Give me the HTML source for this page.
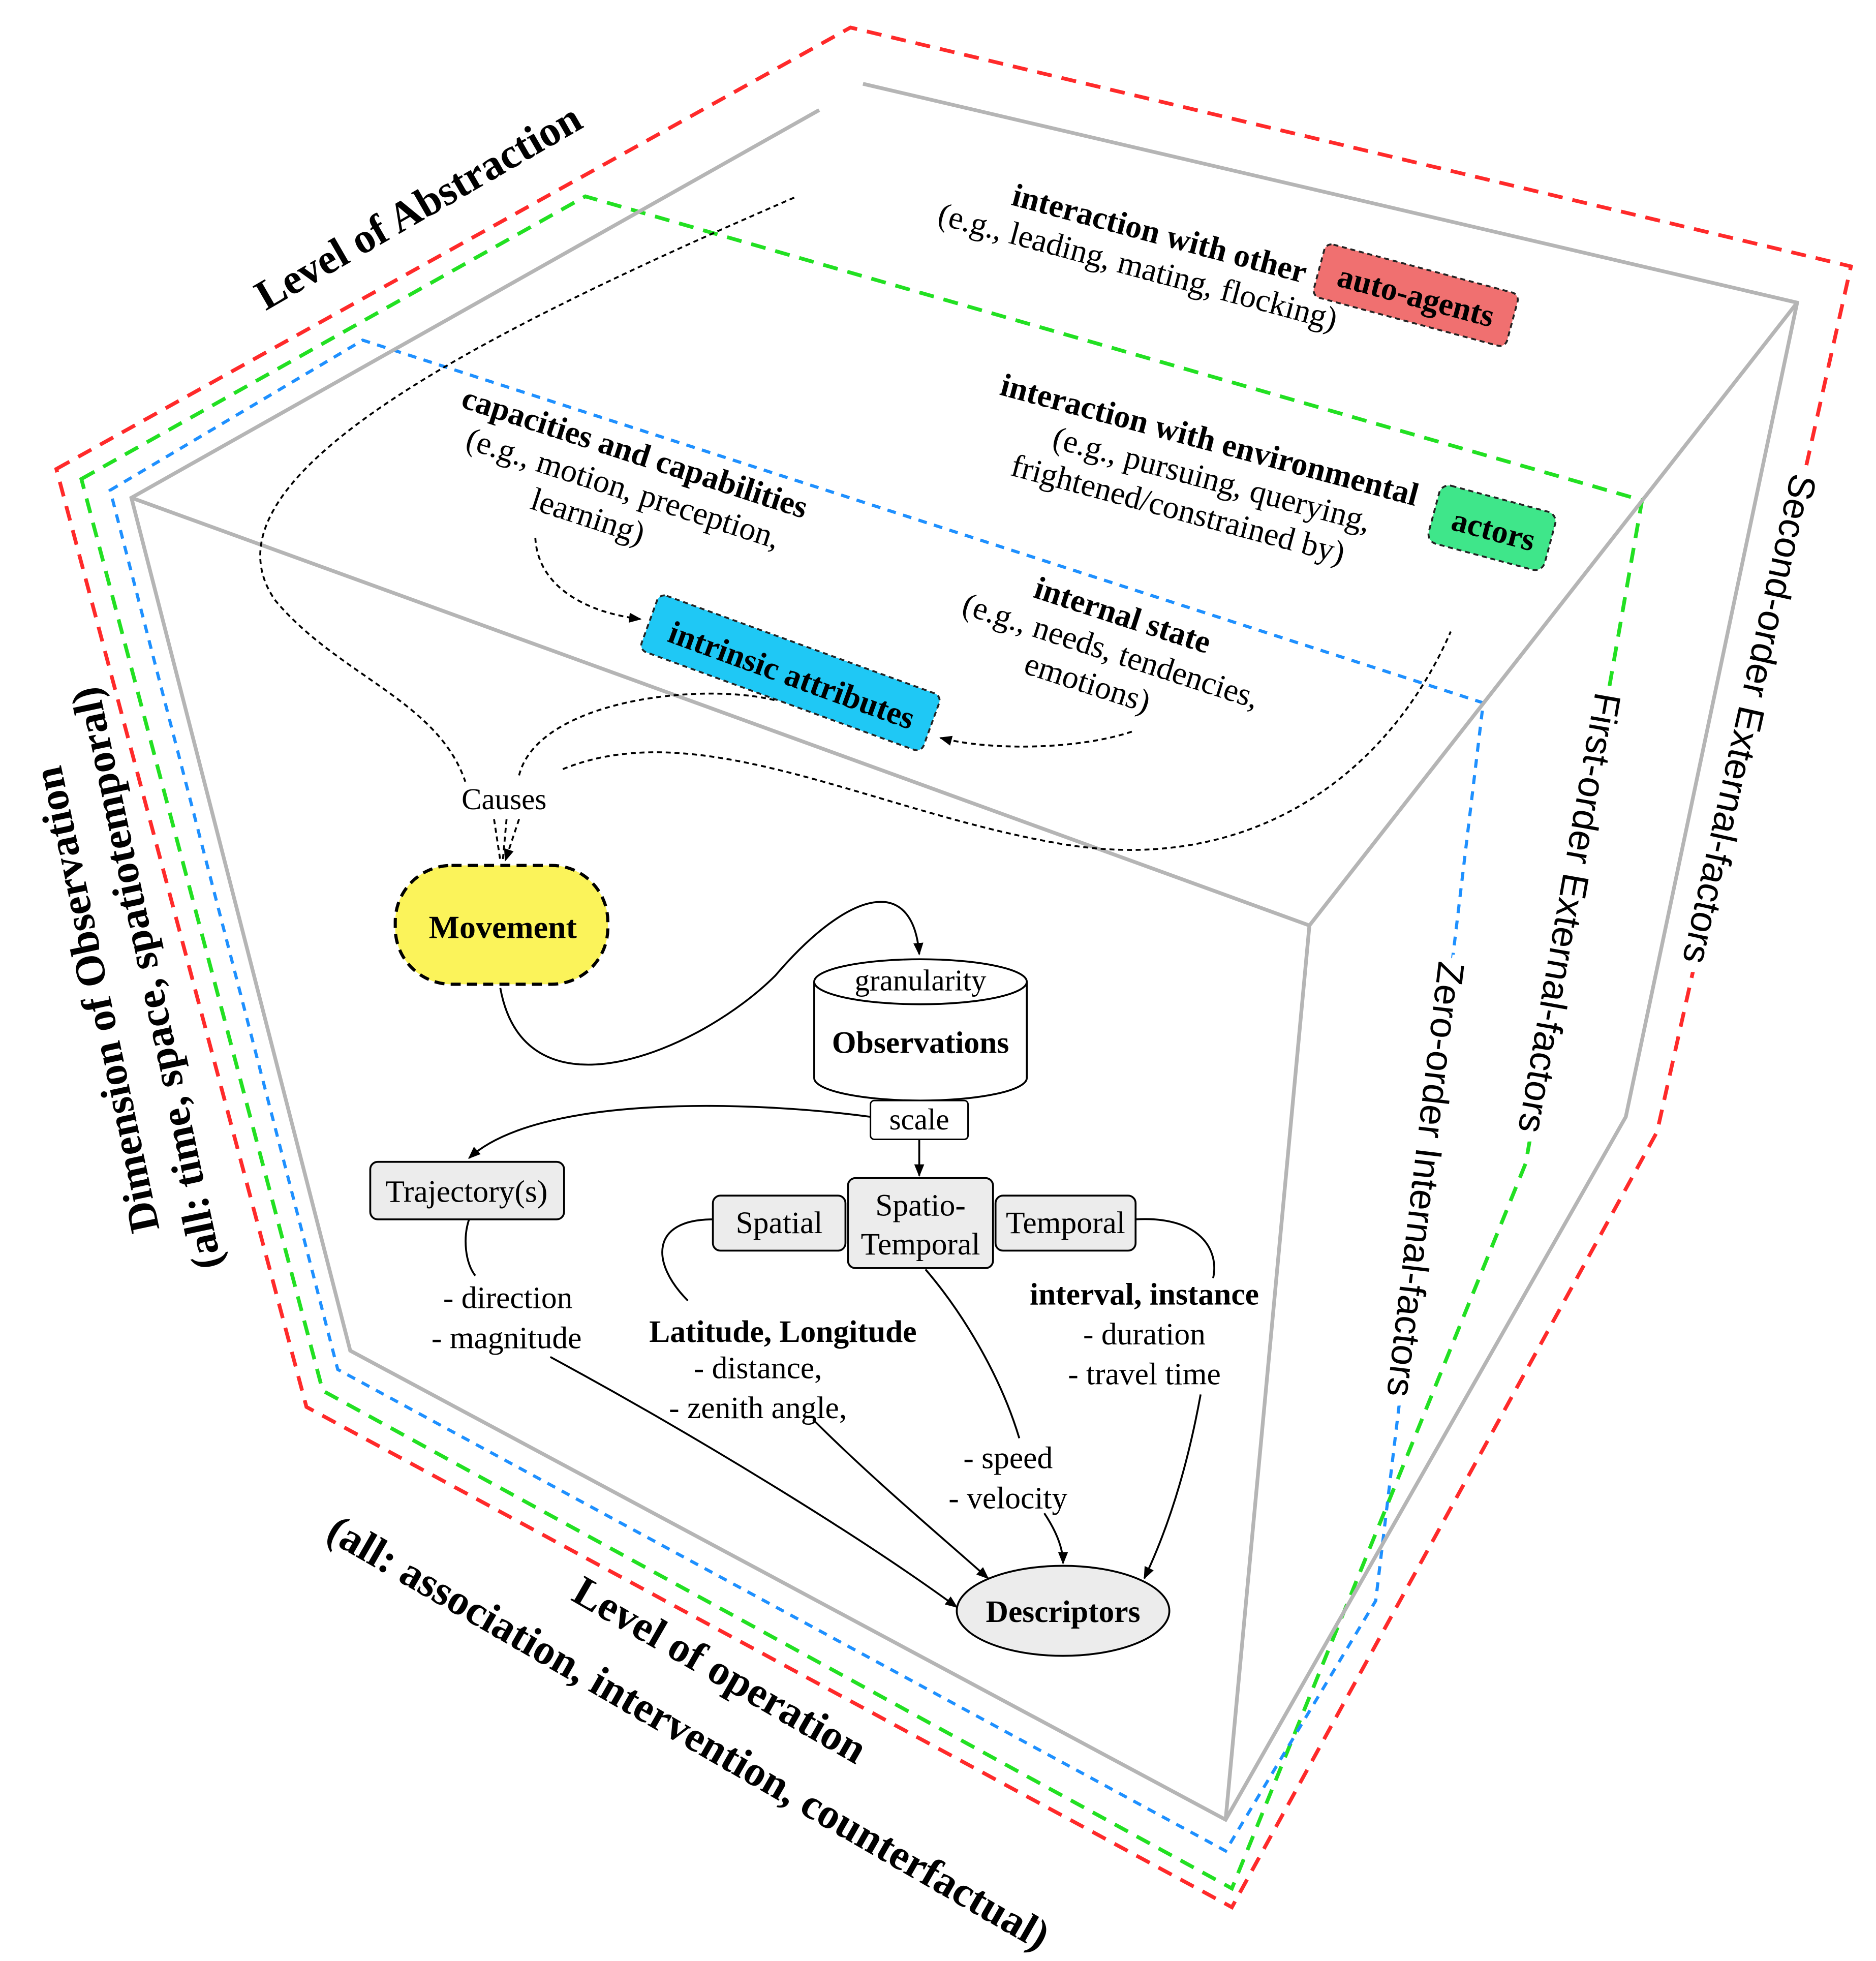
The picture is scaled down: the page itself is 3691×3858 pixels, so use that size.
<!DOCTYPE html>
<html><head><meta charset="utf-8"><style>html,body{margin:0;padding:0;background:#fff}svg{display:block}</style></head>
<body>
<svg width="3691" height="3858" viewBox="0 0 1500 1568" xmlns="http://www.w3.org/2000/svg" font-family="Liberation Serif, serif">
<defs><marker id="a" markerWidth="10" markerHeight="10" refX="9" refY="5" orient="auto" markerUnits="userSpaceOnUse"><path d="M0,1 L10,5 L0,9 Z" fill="#000"/></marker></defs>
<g fill="none" stroke-width="3" stroke-dasharray="12,8">
<path d="M45,375 L680,22 L1480,213 L1325,905 L985,1525 L245,1125 Z" stroke="#ff2a2a"/>
<path d="M65,383 L468,157 L1313,400 L1220,930 L985,1510 L258,1112 Z" stroke="#22e022"/>
</g>
<path d="M88,392 L290,272 L1186,562 L1100,1280 L980,1480 L270,1095 Z" fill="none" stroke="#1e90ff" stroke-width="2.5" stroke-dasharray="7,6"/>
<g fill="none" stroke="#b5b5b5" stroke-width="3">
<path d="M655,88 L105,398 L280,1080 L980,1455 L1300,893 L1437,242 L690,67"/>
<path d="M105,398 L1047,740 L1437,242 M1047,740 L980,1455"/>
</g>
<g font-weight="bold" font-size="34">
<text transform="translate(340,175) rotate(-30)" text-anchor="middle">Level of Abstraction</text>
<text transform="translate(88,797) rotate(-102)" text-anchor="middle">Dimension of Observation</text>
<text transform="translate(128,780) rotate(-102)" text-anchor="middle">(all: time, space, spatiotemporal)</text>
<text transform="translate(570,1345) rotate(30)" text-anchor="middle">Level of operation</text>
<text transform="translate(545,1395) rotate(30)" text-anchor="middle">(all: association, intervention, counterfactual)</text>
</g>
<g font-family="Liberation Sans, sans-serif" font-size="30" stroke="#fff" stroke-width="16" paint-order="stroke" dominant-baseline="central" text-anchor="middle">
<text transform="translate(1399,575) rotate(102.6)">Second-order External-factors</text>
<text transform="translate(1255,730) rotate(100)">First-order External-factors</text>
<text transform="translate(1140,943) rotate(96.8)">Zero-order Internal-factors</text>
</g>
<g stroke="#222" stroke-width="1.5" stroke-dasharray="4,3">
<rect x="-80" y="-22" width="160" height="44" rx="6" fill="#f07070" transform="translate(1132,236) rotate(15)"/>
<rect x="-48" y="-24" width="96" height="48" rx="8" fill="#3fe68a" transform="translate(1193,422) rotate(15)"/>
<rect x="-120" y="-24" width="240" height="48" rx="6" fill="#1fc8f5" transform="translate(632,538) rotate(20)"/>
</g>
<g font-size="26" font-weight="bold">
<text transform="translate(1130,245) rotate(15)" text-anchor="middle">auto-agents</text>
<text transform="translate(1192,432) rotate(15)" text-anchor="middle">actors</text>
<text transform="translate(630,548) rotate(20)" text-anchor="middle">intrinsic attributes</text>
</g>
<g font-size="26">
<g transform="translate(925,195) rotate(15)" text-anchor="middle"><text font-weight="bold" y="0">interaction with other</text><text y="30" x="-10">(e.g., leading, mating, flocking)</text></g>
<g transform="translate(965,360) rotate(15)" text-anchor="middle"><text font-weight="bold">interaction with environmental</text><text y="30" x="10">(e.g., pursuing, querying,</text><text y="60" x="-10">frightened/constrained by)</text></g>
<g transform="translate(505,370) rotate(18)" text-anchor="middle"><text font-weight="bold">capacities and capabilities</text><text y="30" x="0">(e.g., motion, preception,</text><text y="60" x="-20">learning)</text></g>
<g transform="translate(895,500) rotate(18)" text-anchor="middle"><text font-weight="bold">internal state</text><text y="30">(e.g., needs, tendencies,</text><text y="60" x="-10">emotions)</text></g>
</g>
<g fill="none" stroke="#000" stroke-width="1.5" stroke-dasharray="4,3">
<path d="M635,158 C400,260 150,380 220,480 C270,540 350,560 372,625"/>
<path d="M415,620 C430,560 560,545 620,560"/>
<path d="M450,615 C560,570 700,650 850,675 C1000,700 1110,620 1160,505"/>
<path d="M428,430 C430,470 470,490 512,495" marker-end="url(#a)"/>
<path d="M905,585 C860,600 790,600 752,590" marker-end="url(#a)"/>
<path d="M395,655 L400,688 M405,655 L402,688 M415,655 L404,688" marker-end="url(#a)"/>
</g>
<text x="403" y="647" font-size="24" text-anchor="middle">Causes</text>
<rect x="316" y="692" width="170" height="95" rx="45" fill="#fbf35a" stroke="#000" stroke-width="2.5" stroke-dasharray="8,5"/>
<text x="402" y="750" font-size="26" font-weight="bold" text-anchor="middle">Movement</text>
<path d="M400,790 C420,900 560,840 620,780 C680,710 730,700 735,763" fill="none" stroke="#000" stroke-width="1.5" marker-end="url(#a)"/>
<path d="M651,785 L651,862 A85,18 0 0 0 821,862 L821,785" fill="#fff" stroke="#000" stroke-width="1.5"/>
<ellipse cx="736" cy="785" rx="85" ry="18" fill="#fff" stroke="#000" stroke-width="1.5"/>
<text x="736" y="792" font-size="24" text-anchor="middle">granularity</text>
<text x="736" y="842" font-size="25" font-weight="bold" text-anchor="middle">Observations</text>
<rect x="696" y="880" width="78" height="31" fill="#fff" stroke="#000" stroke-width="1.2" rx="3"/>
<text x="735" y="903" font-size="24" text-anchor="middle">scale</text>
<g fill="none" stroke="#000" stroke-width="1.5">
<path d="M696,893 C600,880 430,875 375,926" marker-end="url(#a)"/>
<path d="M735,911 L735,940" marker-end="url(#a)"/>
<path d="M570,975 C520,975 520,1010 550,1040"/>
<path d="M908,975 C960,972 975,1000 970,1022"/>
<path d="M375,975 C370,990 372,1010 380,1020"/>
<path d="M440,1085 C560,1150 690,1230 765,1285" marker-end="url(#a)"/>
<path d="M650,1135 C700,1185 760,1235 790,1262" marker-end="url(#a)"/>
<path d="M740,1015 C770,1050 800,1100 815,1150"/>
<path d="M835,1210 C845,1225 850,1238 850,1250" marker-end="url(#a)"/>
<path d="M960,1115 C950,1170 935,1220 915,1262" marker-end="url(#a)"/>
</g>
<g fill="#ececec" stroke="#000" stroke-width="1.5">
<rect x="296" y="929" width="155" height="46" rx="6"/>
<rect x="570" y="956" width="106" height="44" rx="6"/>
<rect x="678" y="942" width="116" height="72" rx="6"/>
<rect x="796" y="956" width="112" height="44" rx="6"/>
<ellipse cx="850" cy="1288" rx="85" ry="36"/>
</g>
<g font-size="25" text-anchor="middle">
<text x="373" y="961">Trajectory(s)</text>
<text x="623" y="986">Spatial</text>
<text x="736" y="972">Spatio-</text><text x="736" y="1003">Temporal</text>
<text x="852" y="986">Temporal</text>
<text x="850" y="1297" font-weight="bold">Descriptors</text>
<text x="406" y="1046">- direction</text>
<text x="405" y="1078">- magnitude</text>
<text x="626" y="1073" font-weight="bold">Latitude, Longitude</text>
<text x="606" y="1102">- distance,</text>
<text x="606" y="1134">- zenith angle,</text>
<text x="806" y="1174">- speed</text>
<text x="806" y="1206">- velocity</text>
<text x="915" y="1043" font-weight="bold">interval, instance</text>
<text x="915" y="1075">- duration</text>
<text x="915" y="1107">- travel time</text>
</g>
</svg>
</body></html>
